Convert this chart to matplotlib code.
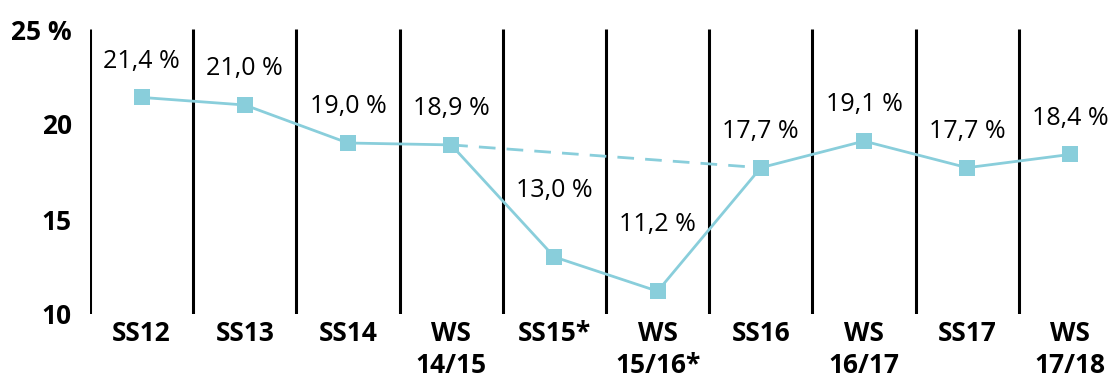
import numpy as np
import matplotlib.pyplot as plt

plt.rcParams['font.family'] = ['Open Sans', 'DejaVu Sans']

semesters = ['SS12', 'SS13', 'SS14', 'WS\n14/15', 'SS15*', 'WS\n15/16*',
             'SS16', 'WS\n16/17', 'SS17', 'WS\n17/18']
share = [21.4, 21.0, 19.0, 18.9, 13.0, 11.2, 17.7, 19.1, 17.7, 18.4]
# labels of the two dip points sit higher so they clear the line
label_offset = [1.9, 1.9, 1.9, 1.9, 3.5, 3.5, 1.9, 1.9, 1.9, 1.9]
# dashed bridge skipping the starred semesters
bridge_idx = [3, 6]

line_col = '#89cedb'

fig = plt.figure(figsize=(11.14, 3.81), dpi=100)
ax = fig.add_axes([90 / 1114, 67 / 381, 1032 / 1114, 285 / 381])

x = np.arange(len(semesters))

# separators between semesters
for xv in np.arange(len(semesters)) - 0.5:
    ax.plot([xv, xv], [10, 25], color='black', lw=2.2, solid_capstyle='butt', zorder=1)

ax.plot([x[i] for i in bridge_idx], [share[i] for i in bridge_idx],
        color=line_col, lw=2, ls=(0, (6, 4)), zorder=2)
ax.plot(x, share, color=line_col, lw=2, marker='s', markersize=12,
        markeredgewidth=0, zorder=3)

for xi, v, off in zip(x, share, label_offset):
    ax.text(xi, v + off, f'{v:.1f} %'.replace('.', ','), ha='center', va='center',
            fontsize=18, color='black')

ax.set_xlim(-0.5, len(semesters) - 0.5)
ax.set_ylim(10, 25)
ax.set_xticks(x)
ax.set_xticklabels(semesters, fontsize=19, fontweight='bold', linespacing=1.25)
ax.set_yticks([10, 15, 20, 25])
ax.set_yticklabels(['10', '15', '20', '25 %'], fontsize=19, fontweight='bold')
ax.tick_params(length=0)
ax.tick_params(axis='y', pad=13)
ax.tick_params(axis='x', pad=4)
for s in ax.spines.values():
    s.set_visible(False)
for lbl in ax.get_xticklabels():
    lbl.set_verticalalignment('top')

fig.savefig('out.png', dpi=100)
